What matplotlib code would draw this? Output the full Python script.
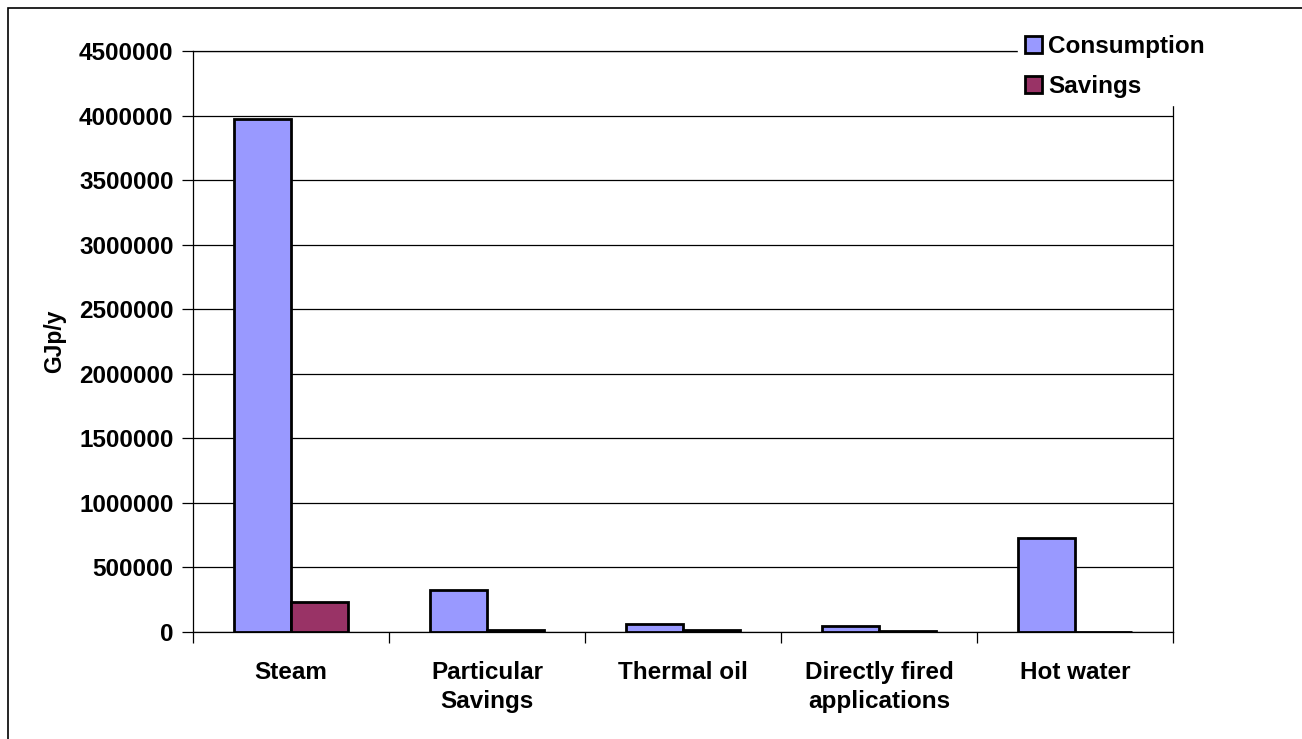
import matplotlib
matplotlib.use("Agg")
import matplotlib.pyplot as plt
from matplotlib.patches import Rectangle
import numpy as np

plt.rcParams['font.family'] = ['Liberation Sans', 'DejaVu Sans']
plt.rcParams['font.weight'] = 'bold'

categories = ["Steam", "Particular\nSavings", "Thermal oil",
              "Directly fired\napplications", "Hot water"]
consumption = [3970000, 326000, 62000, 46000, 730000]
savings = [230000, 18000, 14000, 9000, 0]
series_names = ["Consumption", "Savings"]
yticks = np.arange(0, 4500001, 500000)

W, H = 1302, 739
fig = plt.figure(figsize=(W / 100, H / 100), dpi=100)
fig.patch.set_facecolor("white")

# outer chart border (left and top edges visible)
fig.patches.append(Rectangle((8 / W, -0.1), 1.2, 1 - 8 / H + 0.1,
                             transform=fig.transFigure, fill=False,
                             edgecolor="black", linewidth=1.2))

ax = fig.add_axes([193 / W, 1 - 632 / H, (1173 - 193) / W, (632 - 51) / H])

x = np.arange(len(categories))
bw = 0.29
b1 = ax.bar(x - bw / 2, consumption, bw, color="#9999FF", edgecolor="black",
            linewidth=2.0, label=series_names[0], zorder=3)
b2 = ax.bar(x + bw / 2, savings, bw, color="#993366", edgecolor="black",
            linewidth=2.0, label=series_names[1], zorder=3)

ax.set_xlim(-0.5, len(categories) - 0.5)
ax.set_ylim(0, 4500000)
ax.set_yticks(yticks)
ax.set_yticklabels([str(v) for v in yticks], fontsize=17.5, fontweight="bold")
ax.yaxis.grid(True, color="black", linewidth=0.9, zorder=0)
ax.set_axisbelow(True)

ax.set_xticks(np.arange(-0.5, len(categories), 1.0))
ax.set_xticklabels([])
ax.set_xticks(x, minor=True)
ax.set_xticklabels(categories, minor=True, fontsize=17.5, fontweight="bold",
                   linespacing=1.3)
ax.tick_params(axis="x", which="minor", length=0, pad=21)
ax.tick_params(axis="x", which="major", length=8, width=0.9, direction="out")
ax.tick_params(axis="y", length=8, width=0.9, direction="out", pad=6)

for s in ax.spines.values():
    s.set_color("black")
    s.set_linewidth(0.9)

ax.set_ylabel("GJp/y", fontsize=16.5, fontweight="bold")
ax.yaxis.set_label_coords(-0.129, 0.5)

leg = fig.legend(handles=[b1, b2], loc="upper left",
                 bbox_to_anchor=(1018 / W, 1 - 28 / H),
                 frameon=True, fancybox=False, framealpha=1,
                 edgecolor="white", facecolor="white",
                 prop={"size": 17.5, "weight": "bold"},
                 handlelength=0.7, handleheight=0.7, handletextpad=0.25,
                 labelspacing=0.68, borderpad=0.3, borderaxespad=0)
for h in leg.legend_handles:
    h.set_linewidth(2.0)

fig.savefig("out.png", dpi=100)
